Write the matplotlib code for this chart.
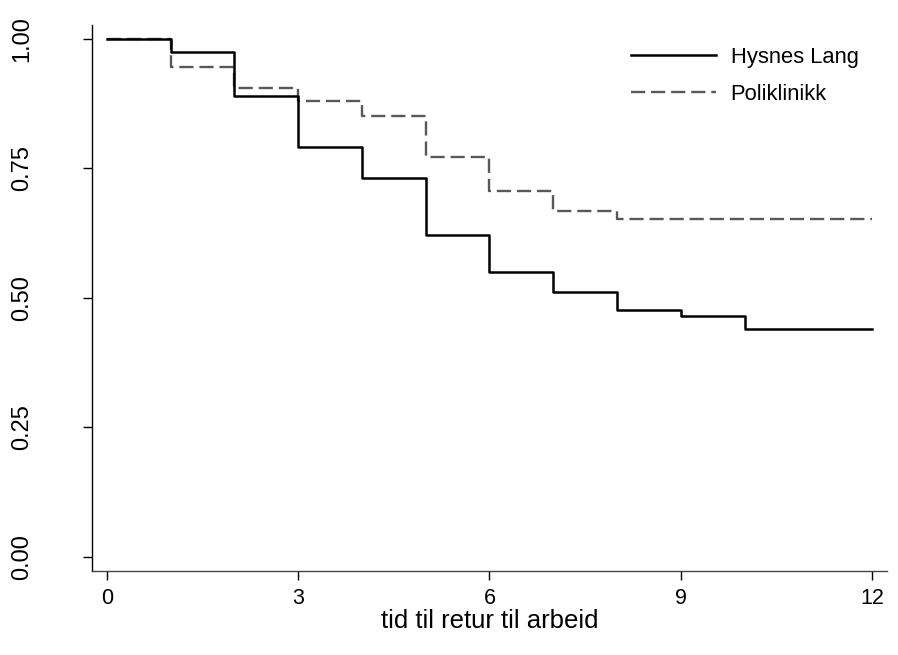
import matplotlib
matplotlib.use("Agg")
import matplotlib.pyplot as plt
from matplotlib import font_manager

# Kaplan-Meier style curves
months = [0, 1, 2, 3, 4, 5, 6, 7, 8, 9, 10, 11, 12]
hysnes = [1.0, 0.974, 0.889, 0.792, 0.731, 0.622, 0.550, 0.512, 0.476, 0.465, 0.440, 0.440, 0.440]
poli = [1.0, 0.946, 0.905, 0.880, 0.852, 0.773, 0.707, 0.667, 0.653, 0.653, 0.653, 0.653, 0.653]
labels = ["Hysnes Lang", "Poliklinikk"]
xticks = [0, 3, 6, 9, 12]
yticks = [0.0, 0.25, 0.5, 0.75, 1.0]
xlabel = "tid til retur til arbeid"

names = {f.name for f in font_manager.fontManager.ttflist}
plt.rcParams['font.family'] = ['Liberation Sans', 'DejaVu Sans'] if 'Liberation Sans' in names else ['DejaVu Sans']

fig = plt.figure(figsize=(8.98, 6.55), dpi=100)
ax = fig.add_axes([0.1028, 0.1287, 0.8846, 0.8331])

ax.step(months, hysnes, where='post', color='black', lw=1.8, label=labels[0], zorder=3)
ax.step(months, poli, where='post', color='#585858', lw=1.7, dashes=(6, 2.5), label=labels[1], zorder=2)

ax.set_xlim(-0.226, 12.226)
ax.set_ylim(-0.027, 1.027)
ax.set_xticks(xticks)
ax.set_yticks(yticks)
ax.set_xticklabels([str(t) for t in xticks])
ax.set_yticklabels(["%.2f" % t for t in yticks], rotation=90, va='center')
ax.tick_params(axis='x', length=6.5, width=1, pad=6, labelsize=15.5, colors='black')
ax.tick_params(axis='y', length=6.5, width=1, pad=36, labelsize=17, colors='black')
ax.set_xlabel(xlabel, fontsize=18.5, labelpad=0)

for s in ['top', 'right']:
    ax.spines[s].set_visible(False)
ax.spines['left'].set_color('black')
ax.spines['bottom'].set_color('#444444')
ax.spines['left'].set_linewidth(1)
ax.spines['bottom'].set_linewidth(1)

leg = ax.legend(loc='upper left', bbox_to_anchor=(0.7023, 0.928), bbox_transform=fig.transFigure,
                frameon=False, fontsize=15.8, handlelength=3.9, handletextpad=0.65,
                labelspacing=0.7, borderpad=0, borderaxespad=0)

fig.savefig("out.png", dpi=100)
